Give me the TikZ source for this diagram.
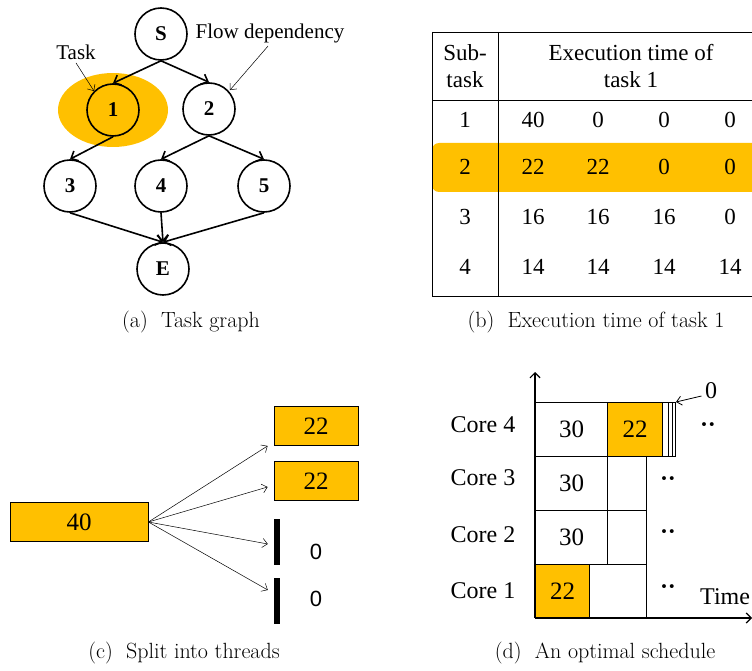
\documentclass[tikz,border=0pt]{standalone}
\usepackage{fontspec}
\usetikzlibrary{arrows.meta}
\newfontfamily\tnr{Liberation Serif}
\newfontfamily\ari{Liberation Sans}
\definecolor{gold}{RGB}{255,192,0}
\tikzset{
	task/.style={circle, draw, line width=1.6pt, minimum size=52pt, inner sep=0pt, font=\tnr\bfseries\fontsize{21}{21}\selectfont},
	dep/.style={-{Straight Barb[length=6pt, width=11pt]}, line width=1.6pt},
	note/.style={-{Straight Barb[length=5pt, width=9pt]}, line width=0.5pt},
	lbl/.style={font=\tnr\fontsize{21}{24}\selectfont},
	cell/.style={font=\tnr\fontsize{23}{27}\selectfont, align=center},
	thrd/.style={draw, fill=gold, line width=0.8pt, inner sep=0pt, minimum height=39pt, font=\tnr\fontsize{25}{25}\selectfont},
	bar/.style={fill=black, inner sep=0pt, minimum width=6pt, minimum height=46pt},
	slot/.style={draw, line width=1pt, inner sep=0pt, anchor=north west, minimum height=54pt, font=\tnr\fontsize{25}{25}\selectfont},
	core/.style={font=\tnr\fontsize{24}{24}\selectfont},
	capt/.style={font=\fontsize{22}{26}\selectfont}
}

\begin{document}
\begin{tikzpicture}[x=1pt, y=-1pt]
			\useasboundingbox (0,0) rectangle (752,671);
			
			%%%%% (a) TASK GRAPH %%%%%
			
			\fill[gold] (113, 110) ellipse (55 and 37);
			
			\node[task] (S) at (161, 34) {S};
			\node[task] (t1) at (113, 110) {1};
			\node[task] (t2) at (209, 109) {2};
			\node[task] (t3) at (70, 186) {3};
			\node[task] (t4) at (161, 186) {4};
			\node[task] (t5) at (264, 186) {5};
			\node[task] (E) at (163, 269) {E};
			
			\draw[dep] (S.south) -- (t1.north);
			\draw[dep] (S.south) -- (t2.north);
			\draw[dep] (t1.south) -- (t3.north);
			\draw[dep] (t2.south) -- (t4.north);
			\draw[dep] (t2.south) -- (t5.north);
			\draw[dep] (t3.south) -- (E.north);
			\draw[dep] (t4.south) -- (E.north);
			\draw[dep] (t5.south) -- (E.north);
			
			\node[lbl] (tasklbl) at (76, 52) {Task};
			\draw[note] (tasklbl.south) -- (t1.north west);
			\node[lbl] (flowlbl) at (270, 33) {Flow dependency};
			\draw[note] ([xshift=-2]flowlbl.south) -- ([xshift=2]t2.north east);
			
			\node[capt] (capa) at (191, 322) {(a)\ \ Task graph};
			
			%%%%% (b) EXECUTION TIME TABLE %%%%%
			
			\fill[gold, rounded corners=7pt] (432, 143) rectangle (770, 192);
			
			\draw[line width=0.6pt] (432, 32) -- (752, 32);
			\draw[line width=0.6pt] (432, 100) -- (752, 100);
			\draw[line width=0.6pt] (432, 296) -- (752, 296);
			\draw[line width=0.6pt] (432, 32) -- (432, 296);
			\draw[line width=0.6pt] (498, 32) -- (498, 296);
			
			\node[cell] (hsub) at (465, 66) {Sub-\\task};
			\node[cell] (hexe) at (631, 66) {Execution time of\\task 1};
			
			\foreach \r/\y/\a/\b/\c/\d in {1/120/40/0/0/0, 2/167/22/22/0/0, 3/217/16/16/16/0, 4/267/14/14/14/14}{
				\node[cell] (s\r) at (465, \y) {\r};
				\node[cell] (v\r a) at (533, \y) {\a};
				\node[cell] (v\r b) at (598, \y) {\b};
				\node[cell] (v\r c) at (664, \y) {\c};
				\node[cell] (v\r d) at (730, \y) {\d};
			}
			
			\node[capt] (capb) at (596, 322) {(b)\ \ Execution time of task 1};
			
			%%%%% (c) SPLIT INTO THREADS %%%%%
			
			\node[thrd, minimum width=138pt] (t40) at (79, 522) {40};
			\node[thrd, minimum width=84pt] (th1) at (316, 426) {22};
			\node[thrd, minimum width=84pt] (th2) at (316, 481) {22};
			\node[bar] (th3) at (277, 542) {};
			\node[bar] (th4) at (277, 601) {};
			\node[font=\ari\fontsize{22}{22}\selectfont] (z3) at (316, 552) {0};
			\node[font=\ari\fontsize{22}{22}\selectfont] (z4) at (316, 599) {0};
			
			\draw[note] (t40.east) -- ([xshift=-6]th1.south west);
			\draw[note] (t40.east) -- ([xshift=-6, yshift=-6]th2.west);
			\draw[note] (t40.east) -- ([xshift=-6, yshift=-2]th3.west);
			\draw[note] (t40.east) -- ([xshift=-6, yshift=11]th4.west);
			
			\node[capt] (capc) at (184, 653) {(c)\ \ Split into threads};
			
			%%%%% (d) OPTIMAL SCHEDULE %%%%%
			
			\coordinate (org) at (535, 618);
			\coordinate (ytop) at (535, 372);
			\coordinate (xend) at (752, 618);
			
			\node[slot, minimum width=72pt] (c4a) at (535, 402) {30};
			\node[slot, minimum width=55pt, fill=gold] (c4b) at (607, 402) {22};
			\node[slot, minimum width=13pt] (c4z) at (662, 402) {};
			\draw[line width=1pt] (668, 402) -- (668, 456);
			\draw[line width=1pt] (672, 402) -- (672, 456);
			
			\node[slot, minimum width=72pt] (c3a) at (535, 456) {30};
			\node[slot, minimum width=39pt] (c3b) at (607, 456) {};
			\node[slot, minimum width=72pt] (c2a) at (535, 510) {30};
			\node[slot, minimum width=39pt] (c2b) at (607, 510) {};
			\node[slot, minimum width=54pt, fill=gold] (c1a) at (535, 564) {22};
			\node[slot, minimum width=57pt] (c1b) at (589, 564) {};
			
			\draw[-{Straight Barb[length=5pt, width=10pt]}, line width=1.2pt] (org) -- (ytop);
			\draw[-{Straight Barb[length=5pt, width=10pt]}, line width=1.2pt] (org) -- (xend);
			
			\node[core] (k4) at (483, 425) {Core 4};
			\node[core] (k3) at (483, 478) {Core 3};
			\node[core] (k2) at (483, 535) {Core 2};
			\node[core] (k1) at (483, 591) {Core 1};
			
			\node[core] (d4) at (708, 428) {\textbf{··}};
			\node[core] (d3) at (668, 482) {\textbf{··}};
			\node[core] (d2) at (668, 535) {\textbf{··}};
			\node[core] (d1) at (668, 590) {\textbf{··}};
			
			\node[core] (zlbl) at (711, 391) {0};
			\draw[note, line width=0.8pt] ([yshift=-5]zlbl.west) -- (c4z.north east);
			
			\node[core, anchor=west, inner sep=0pt] (time) at (700, 597) {Time};
			
			\node[capt] (capd) at (605, 653) {(d)\ \ An optimal schedule};
			
		\end{tikzpicture}
\end{document}
